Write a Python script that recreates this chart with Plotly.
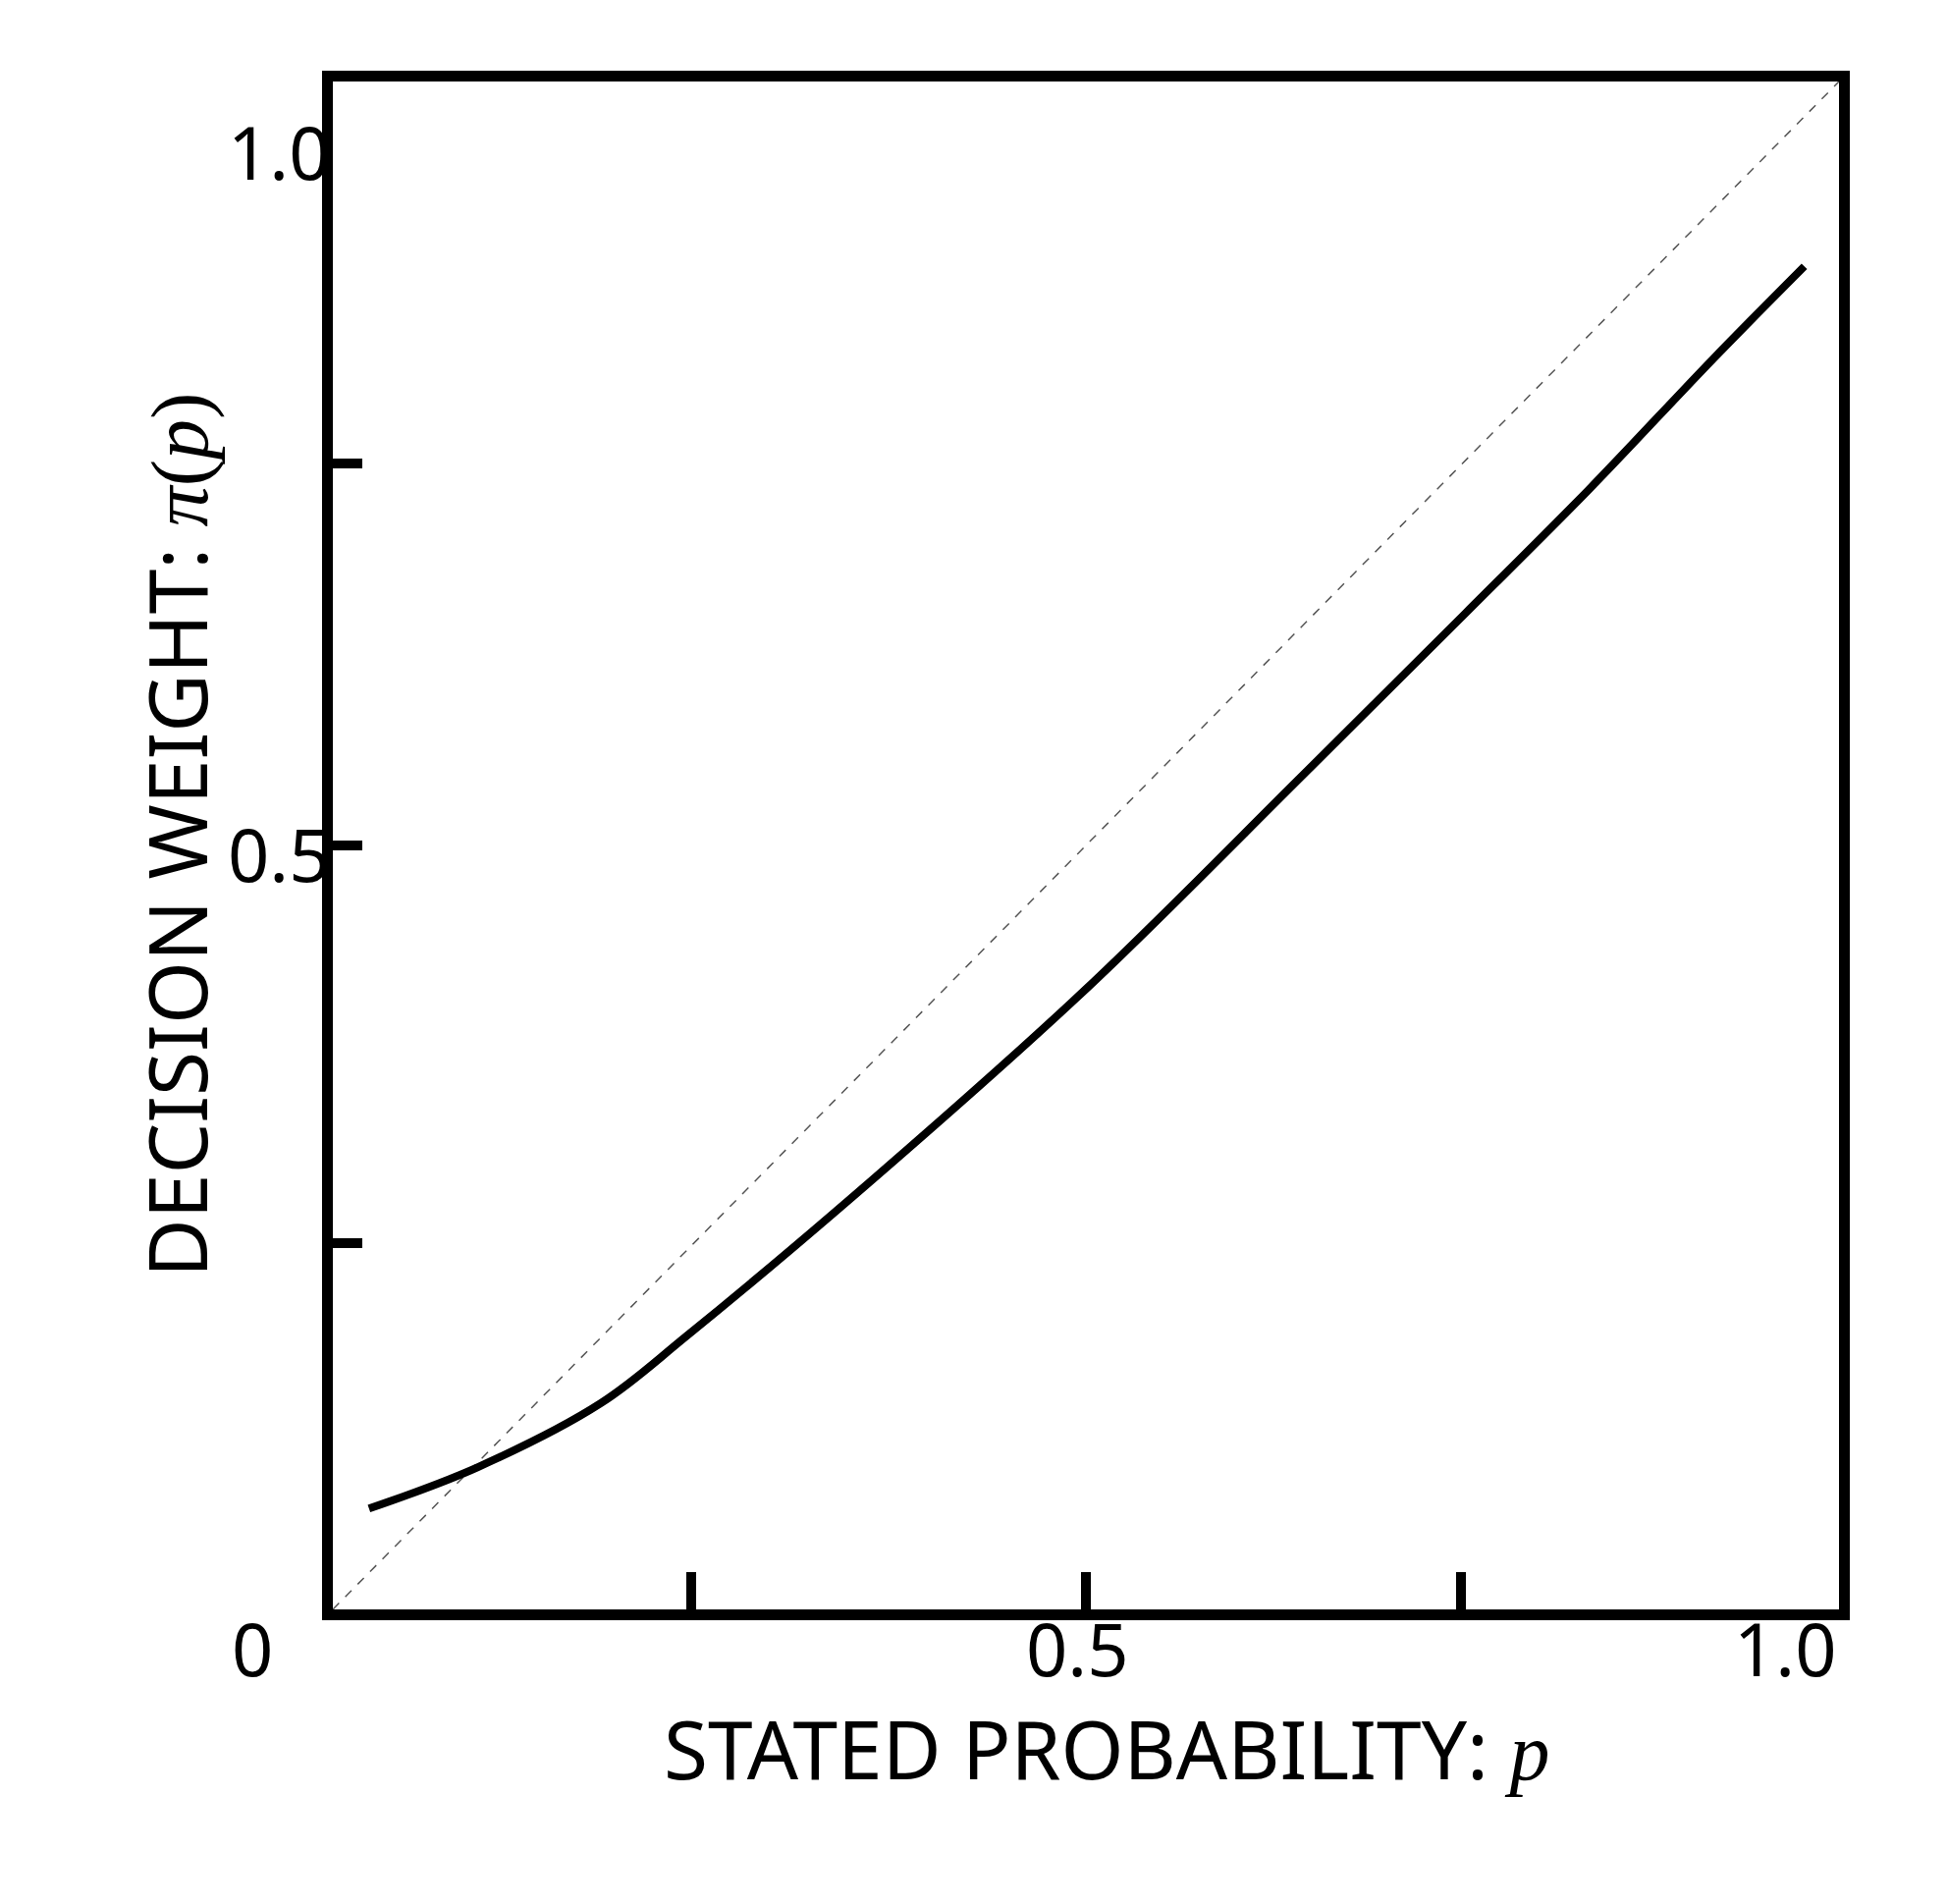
import plotly.graph_objects as go

p_vals = [0.024, 0.096, 0.178, 0.235, 0.358, 0.5, 0.645, 0.752, 0.834, 0.916, 0.977]
w_vals = [0.066, 0.093, 0.135, 0.179, 0.281, 0.406, 0.547, 0.652, 0.733, 0.818, 0.879]
x_ticks = [0.238, 0.5, 0.749]
y_ticks = [0.24, 0.5, 0.75]

W, H = 1983, 1939
L, R, T, B = 331, 118, 75, 308
pw, ph = W - L - R, H - T - B
def px(x): return (x - L) / pw
def py(y): return (H - B - y) / ph

fig = go.Figure()
fig.add_trace(go.Scatter(x=[0, 1], y=[0, 1], mode="lines",
                         line=dict(color="#555", width=1.5, dash="dash"), hoverinfo="skip"))
fig.add_trace(go.Scatter(x=p_vals, y=w_vals, mode="lines", line=dict(color="black", width=8, shape="spline")))

ax = dict(range=[0, 1], showgrid=False, zeroline=False, showline=True, linecolor="black",
          linewidth=11, mirror=True, ticks="inside", tickcolor="black", tickwidth=10,
          showticklabels=False)
fig.update_xaxes(**ax, tickvals=x_ticks, ticklen=38)
fig.update_yaxes(**ax, tickvals=y_ticks, ticklen=30)

font = dict(family="Noto Sans", size=74, color="black")
labels = [("0", 226, 1723), ("0.5", 1089, 1723), ("1.0", 1865, 1723),
          ("1.0", 222, 94), ("0.5", 222, 862)]
for t, x, y in labels:
    fig.add_annotation(text=t, x=px(x), y=py(y), xref="paper", yref="paper",
                       showarrow=False, font=font)
tfont = dict(family="Noto Sans", size=82, color="black")
fig.add_annotation(text="STATED PROBABILITY: <span style='font-family:Liberation Serif'><i>p</i></span>",
                   x=px(1119), y=py(1830), xref="paper", yref="paper", showarrow=False, font=tfont)
fig.add_annotation(text="DECISION WEIGHT: <span style='font-family:Liberation Serif'><i>π</i>(<i>p</i>)</span>",
                   x=px(113), y=py(843), xref="paper", yref="paper", showarrow=False,
                   textangle=-90, font=tfont)

fig.update_layout(width=W, height=H, margin=dict(l=L, r=R, t=T, b=B),
                  plot_bgcolor="white", paper_bgcolor="white", showlegend=False)
fig.write_html("out.html")
